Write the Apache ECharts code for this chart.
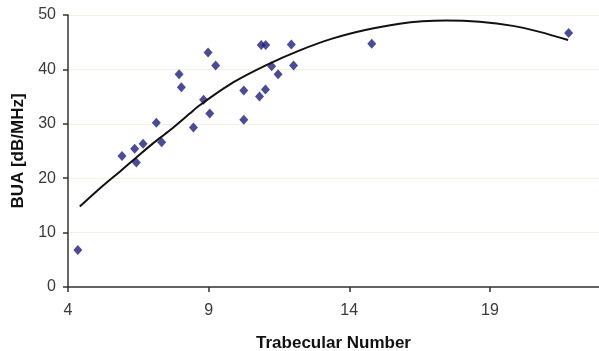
<!DOCTYPE html>
<html>
<head>
<meta charset="utf-8">
<script src="https://cdn.jsdelivr.net/npm/echarts@6/dist/echarts.min.js"></script>
<style>
  html, body { margin: 0; padding: 0; background: #ffffff; }
  #chart { width: 599px; height: 351px; }
</style>
</head>
<body>
<div id="chart"></div>
<script>
// Measured samples: trabecular number vs. broadband ultrasound attenuation
const trabecularNumber = [4.35, 5.92, 6.37, 6.43, 6.67, 7.14, 7.33, 7.95, 8.03, 8.46, 8.82, 8.98, 9.04,
  9.25, 10.25, 10.25, 10.81, 10.87, 11.03, 11.02, 11.24, 11.47, 11.94, 12.02, 14.8, 21.8];
const buaValues = [6.8, 24.1, 25.4, 22.9, 26.35, 30.2, 26.6, 39.1, 36.7, 29.3, 34.4, 43.1, 31.9,
  40.7, 36.1, 30.75, 35.0, 44.5, 44.5, 36.3, 40.6, 39.1, 44.6, 40.7, 44.7, 46.7];

// Polynomial trendline, sampled along its length
const trendX = [4.42, 5.24, 5.84, 6.43, 7.02, 7.62, 8.33, 8.68, 9.87, 11.05, 12.24, 13.42, 14.61,
  15.79, 16.6, 17.45, 18.64, 19.82, 20.77, 21.78];
const trendY = [14.8, 18.6, 21.2, 23.8, 26.4, 28.8, 31.9, 33.4, 37.6, 40.8, 43.5, 45.7, 47.3,
  48.4, 48.85, 49.0, 48.75, 48.0, 46.9, 45.4];

const xTicks = { min: 4, max: 22.88, interval: 5 };
const yTicks = { min: 0, max: 50, interval: 10 };

const chart = echarts.init(document.getElementById('chart'), null, { renderer: 'canvas' });

const fontFamily = 'Liberation Sans, Arial, sans-serif';
const axisText = { color: '#3a3a3a', fontFamily: fontFamily, fontSize: 16 };
const titleText = { color: '#111111', fontFamily: fontFamily, fontSize: 17, fontWeight: 'bold' };

chart.setOption({
  animation: false,
  backgroundColor: '#ffffff',
  grid: { left: 68, top: 15, right: 0, bottom: 64, containLabel: false, outerBoundsMode: 'none' },
  xAxis: {
    type: 'value',
    min: xTicks.min, max: xTicks.max, interval: xTicks.interval,
    name: 'Trabecular Number',
    nameLocation: 'middle',
    nameGap: 48,
    nameTextStyle: titleText,
    axisLine: { show: true, onZero: false, lineStyle: { color: '#333333', width: 1.5 } },
    axisTick: { show: true, inside: false, length: 5, lineStyle: { color: '#333333', width: 1.5 } },
    axisLabel: Object.assign({ margin: 16, showMaxLabel: false }, axisText),
    splitLine: { show: false }
  },
  yAxis: {
    type: 'value',
    min: yTicks.min, max: yTicks.max, interval: yTicks.interval,
    name: 'BUA [dB/MHz]',
    nameLocation: 'middle',
    nameGap: 40,
    nameRotate: 90,
    nameTextStyle: titleText,
    axisLine: { show: true, onZero: false, lineStyle: { color: '#333333', width: 1.5 } },
    axisTick: { show: true, inside: false, length: 5, lineStyle: { color: '#333333', width: 1.5 } },
    axisLabel: Object.assign({ margin: 12 }, axisText),
    splitLine: { show: true, lineStyle: { color: '#f3f3e4', width: 1 } }
  },
  series: [
    {
      type: 'scatter',
      data: trabecularNumber.map((x, i) => [x, buaValues[i]]),
      symbol: 'diamond',
      symbolSize: [9, 10],
      itemStyle: { color: '#1f1f7a' },
      z: 3
    },
    {
      type: 'line',
      data: trendX.map((x, i) => [x, trendY[i]]),
      smooth: 0.3,
      showSymbol: false,
      symbol: 'none',
      lineStyle: { color: '#111111', width: 2 },
      z: 4
    }
  ]
});
</script>
</body>
</html>
